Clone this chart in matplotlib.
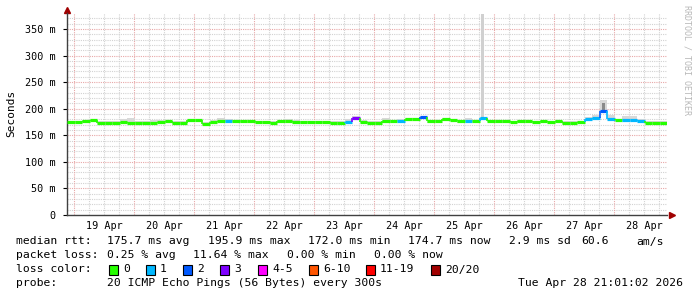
import datetime as dt
import matplotlib
matplotlib.use("Agg")
import matplotlib.pyplot as plt
import matplotlib.dates as mdates
from matplotlib.patches import Rectangle

# samples every 3 hours, from 18 Apr 21:01 to 28 Apr 21:01
start = dt.datetime(2026, 4, 18, 21, 1, 2)
end = dt.datetime(2026, 4, 28, 21, 1, 2)
step_h = 3

median_ms = [175, 175, 176, 178, 174, 174, 174, 175, 174, 174,
             174, 174, 175, 176, 174, 174, 178, 178, 172, 175,
             177, 177, 177, 177, 176, 175, 175, 173, 176, 176,
             175, 175, 175, 175, 175, 174, 173, 175, 183, 175,
             174, 173, 176, 176, 177, 180, 180, 185, 176, 177,
             181, 179, 176, 177, 177, 182, 177, 176, 176, 175,
             176, 176, 175, 176, 175, 176, 174, 174, 175, 181,
             183, 196, 180, 178, 178, 178, 177, 174, 174, 174]
loss = [0, 0, 0, 0, 0, 0, 0, 0, 0, 0,
        0, 0, 0, 0, 0, 0, 0, 0, 0, 0,
        0, 1, 0, 0, 0, 0, 0, 0, 0, 0,
        0, 0, 0, 0, 0, 0, 0, 1, 3, 0,
        0, 0, 0, 0, 1, 0, 0, 2, 0, 0,
        0, 0, 0, 1, 0, 1, 0, 0, 0, 0,
        0, 0, 0, 0, 0, 0, 0, 0, 0, 1,
        1, 2, 1, 0, 1, 1, 1, 0, 0, 0]
smoke_hi_ms = [177, 177, 178, 179, 176, 176, 176, 180, 183, 176,
               176, 178, 179, 178, 176, 176, 180, 180, 175, 178,
               182, 181, 179, 178, 178, 177, 177, 176, 178, 181,
               178, 177, 177, 177, 177, 176, 177, 180, 186, 178,
               176, 176, 182, 178, 180, 182, 182, 187, 178, 179,
               183, 181, 178, 183, 179, 184, 179, 178, 178, 177,
               178, 178, 177, 178, 177, 178, 176, 176, 177, 184,
               188, 216, 188, 181, 186, 187, 180, 176, 176, 176]

# single tall smoke spike on 25 Apr
spike_time = dt.datetime(2026, 4, 25, 19, 20)
spike_top_ms = 378

loss_limits = [0, 1, 2, 3, 5, 10, 19, 20]
loss_labels = ["0", "1", "2", "3", "4-5", "6-10", "11-19", "20/20"]
loss_colors = ["#26ff00", "#00b8ff", "#0059ff", "#7e00ff",
               "#ff00ff", "#ff5500", "#ff0000", "#a10000"]


def color_for(n):
    for lim, c in zip(loss_limits, loss_colors):
        if n <= lim:
            return c
    return loss_colors[-1]


W, H = 697, 297
fig = plt.figure(figsize=(W / 100, H / 100), dpi=100)
ax = fig.add_axes([67 / W, 1 - 215 / H, 600 / W, 202 / H])

mono = "DejaVu Sans Mono"
x0 = mdates.date2num(start)
dx = step_h / 24.0
times = [x0 + i * dx for i in range(len(median_ms))]

# smoke: light band, darker core where the spread is big
for t, m, hi in zip(times, median_ms, smoke_hi_ms):
    ax.bar(t, (hi - m + 2) / 1000, bottom=(m - 2) / 1000, width=dx,
           align="edge", color="#d8d8d8", linewidth=0, zorder=2)
    if hi - m > 15:
        mid = m + (hi - m) * 0.75
        ax.bar(t + dx * 0.3, (mid - m + 2) / 1000, bottom=(m - 2) / 1000,
               width=dx * 0.45, align="edge", color="#8a8a8a",
               linewidth=0, zorder=3)
st = mdates.date2num(spike_time)
ax.bar(st, (spike_top_ms - 178) / 1000, bottom=0.178, width=1.2 / 24,
       align="center", color="#d0d0d0", linewidth=0, zorder=2)

# median line coloured by loss
prev = None
for t, m, n in zip(times, median_ms, loss):
    c = color_for(n)
    ax.hlines(m / 1000, t, t + dx, color=c, linewidth=2.3, zorder=4)
    if prev is not None and prev != m:
        ax.vlines(t, prev / 1000, m / 1000, color=c, linewidth=1.2, zorder=4)
    prev = m

# grid
xmin, xmax = x0, mdates.date2num(end)
ax.set_xlim(xmin, xmax)
ax.set_ylim(0, 0.380)
dotted = (0, (1, 1))
for v in range(10, 380, 10):
    major = v % 50 == 0
    ax.axhline(v / 1000, color="#e8a8a8" if major else "#d2d2d2",
               linewidth=0.8, linestyle=dotted, zorder=1)
day0 = dt.datetime(2026, 4, 19)
tick_pos, tick_lab = [], []
for d in range(10):
    day = day0 + dt.timedelta(days=d)
    for h in (0, 6, 12, 18):
        tx = mdates.date2num(day + dt.timedelta(hours=h))
        if tx >= xmax:
            continue
        ax.axvline(tx, color="#e8a8a8" if h == 0 else "#d2d2d2",
                   linewidth=0.8, linestyle=dotted, zorder=1)
    tick_pos.append(mdates.date2num(day + dt.timedelta(hours=12)))
    tick_lab.append(day.strftime("%d Apr"))

ax.set_xticks(tick_pos)
ax.set_xticklabels(tick_lab, fontfamily=mono, fontsize=7.3)
ax.tick_params(axis="x", length=0, pad=4)
yt = [v / 1000 for v in range(0, 351, 50)]
ax.set_yticks(yt)
ax.set_yticklabels(["0" if v == 0 else f"{v * 1000:.0f} m" for v in yt],
                   fontfamily=mono, fontsize=7.3)
ax.tick_params(axis="y", length=3, width=0.8, pad=5)

for s in ("top", "right"):
    ax.spines[s].set_visible(False)
for s in ("left", "bottom"):
    ax.spines[s].set_color("#404040")
    ax.spines[s].set_linewidth(1.0)

ax.plot([0], [1.015], marker="^", color="#a00000", markersize=4,
        transform=ax.transAxes, clip_on=False)
ax.plot([1.008], [0], marker=">", color="#a00000", markersize=4,
        transform=ax.transAxes, clip_on=False)

fig.text(11 / W, 1 - 113 / H, "Seconds", rotation=90, ha="center",
         va="center", fontfamily=mono, fontsize=8)
fig.text(687 / W, 1 - 5 / H, "RRDTOOL / TOBI OETIKER", rotation=270,
         ha="center", va="top", fontfamily=mono, fontsize=6, color="#b8b8b8")

# legend block
def put(x, y, s, **kw):
    fig.text(x / W, 1 - y / H, s, fontfamily=mono, fontsize=8.2,
             va="center", **kw)

rows = [241.5, 255.5, 269.5, 283.5]
put(16, rows[0], "median rtt:")
for x, s in zip([107, 208, 308, 408, 509, 581, 636],
                ["175.7 ms avg", "195.9 ms max", "172.0 ms min",
                 "174.7 ms now", "2.9 ms sd", "60.6", "am/s"]):
    put(x, rows[0], s)
put(16, rows[1], "packet loss:")
for x, s in zip([107, 193, 287, 374],
                ["0.25 % avg", "11.64 % max", "0.00 % min", "0.00 % now"]):
    put(x, rows[1], s)
put(16, rows[2], "loss color:")
box_x = [109, 146, 183, 220, 258, 309, 366, 431]
for bx, lab, c in zip(box_x, loss_labels, loss_colors):
    fig.add_artist(Rectangle((bx / W, 1 - (rows[2] + 5) / H), 9 / W, 10 / H,
                             facecolor=c, edgecolor="black", linewidth=0.8))
    put(bx + 14, rows[2], lab)
put(16, rows[3], "probe:")
put(107, rows[3], "20 ICMP Echo Pings (56 Bytes) every 300s")
put(683, rows[3], "Tue Apr 28 21:01:02 2026", ha="right")

fig.savefig("out.png", dpi=100)
